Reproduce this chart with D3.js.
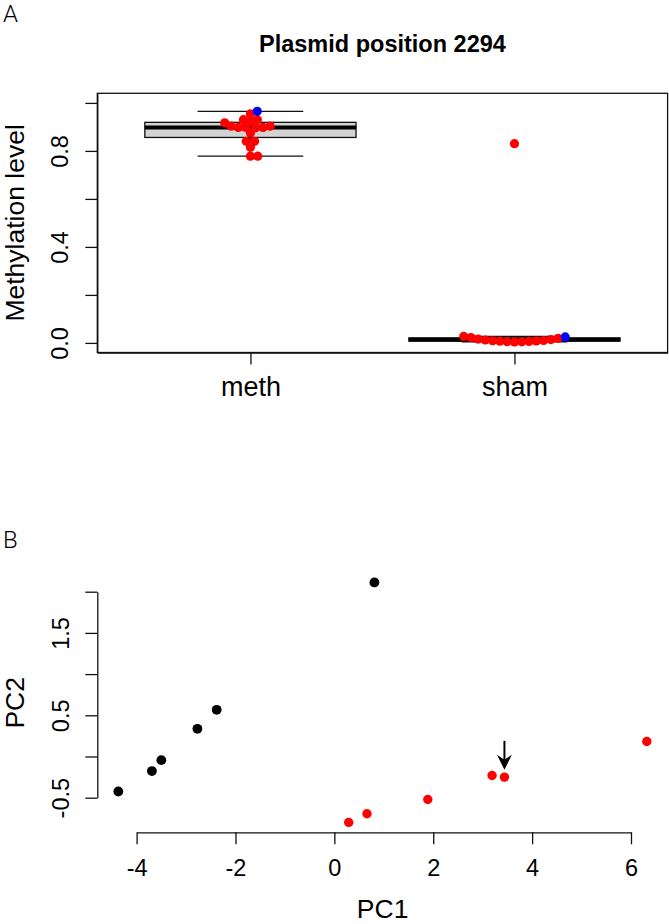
<!DOCTYPE html>
<html><head><meta charset="utf-8">
<script src="https://cdn.jsdelivr.net/npm/d3@7"></script>
<style>
body{margin:0;background:#fff}
svg{display:block}
text{font-family:"Liberation Sans",Arial,Helvetica,sans-serif;fill:#000}
</style>
</head><body>
<svg id="c" width="669" height="924"></svg>
<script>
// ---------- Panel A data ----------
const groups = ["meth", "sham"];
const methRed = [0.954, 0.921, 0.917, 0.93, 0.93, 0.903, 0.898, 0.896, 0.898, 0.898, 0.903, 0.875, 0.84, 0.84, 0.815, 0.778, 0.778];
const methBlue = [0.965];
const shamRed = [0.004, 0.0045, 0.005, 0.006, 0.007, 0.008, 0.009, 0.010, 0.012, 0.014, 0.016, 0.019, 0.022, 0.027, 0.83];
const shamBlue = [0.025];
// five-number summaries: lower whisker, Q1, median, Q3, upper whisker
const methBox = [0.778, 0.856, 0.898, 0.919, 0.965];
const shamBox = [0.004, 0.008, 0.013, 0.021, 0.027];
const yTicksA = [0, 0.2, 0.4, 0.6, 0.8, 1.0];
const yLabelsA = [0, 0.4, 0.8];
const titleA = "Plasmid position 2294";

// ---------- Panel B data ----------
const pc1Black = [-4.37, -3.69, -3.50, -2.77, -2.38, 0.81];
const pc2Black = [-0.425, -0.177, -0.044, 0.336, 0.567, 2.112];
const pc1Red = [0.29, 0.66, 1.89, 3.19, 3.44, 6.32];
const pc2Red = [-0.80, -0.695, -0.522, -0.231, -0.25, 0.182];
const xTicksB = [-4, -2, 0, 2, 4, 6];
const yTicksB = [-0.5, 0, 0.5, 1.0, 1.5, 2.0];
const yLabelsB = [-0.5, 0.5, 1.5];
const arrowPC1 = 3.44, arrowFromPC2 = 0.19, arrowToPC2 = -0.16;

const svg = d3.select("#c");
const INK = "#111";

// ================= Panel A =================
const A = {left: 97.3, right: 667.6, top: 93.3, bottom: 352.5};
const xA = d3.scaleLinear().domain([0.42, 2.58]).range([A.left, A.right]);
const yA = d3.scaleLinear().domain([-0.04, 1.04]).range([A.bottom, A.top]);

svg.append("text").attr("x", 3).attr("y", 21.5)
  .style("font-family", "Roboto, 'Liberation Sans', sans-serif").style("font-weight", 300)
  .attr("font-size", 24).text("A");
svg.append("text").attr("x", (A.left + A.right) / 2).attr("y", 51.7)
  .attr("text-anchor", "middle").attr("font-size", 23.5).attr("font-weight", "bold").text(titleA);

// boxes
const boxW = 0.4, stapleW = 0.2;
[methBox, shamBox].forEach((s, i) => {
  const cx = i + 1;
  const g = svg.append("g");
  g.append("line").attr("x1", xA(cx)).attr("x2", xA(cx)).attr("y1", yA(s[3])).attr("y2", yA(s[4]))
    .attr("stroke", INK).attr("stroke-width", 1.2).attr("stroke-dasharray", "4,4");
  g.append("line").attr("x1", xA(cx)).attr("x2", xA(cx)).attr("y1", yA(s[1])).attr("y2", yA(s[0]))
    .attr("stroke", INK).attr("stroke-width", 1.2).attr("stroke-dasharray", "4,4");
  [s[0], s[4]].forEach(v => g.append("line")
    .attr("x1", xA(cx - stapleW)).attr("x2", xA(cx + stapleW)).attr("y1", yA(v)).attr("y2", yA(v))
    .attr("stroke", INK).attr("stroke-width", 1.2));
  g.append("rect").attr("x", xA(cx - boxW)).attr("width", xA(cx + boxW) - xA(cx - boxW))
    .attr("y", yA(s[3])).attr("height", yA(s[1]) - yA(s[3]))
    .attr("fill", "#d3d3d3").attr("stroke", INK).attr("stroke-width", 1.3);
  g.append("line").attr("x1", xA(cx - boxW)).attr("x2", xA(cx + boxW)).attr("y1", yA(s[2])).attr("y2", yA(s[2]))
    .attr("stroke", "#000").attr("stroke-width", 4);
});

// beeswarm layout (swarm method, ascending priority)
function swarm(vals, yScale, d) {
  const order = vals.map((v, i) => i).sort((a, b) => vals[a] - vals[b]);
  const out = new Array(vals.length);
  const placed = [];
  order.forEach(i => {
    const y = yScale(vals[i]);
    const plus = [], minus = [];
    placed.forEach(p => {
      const dy = Math.abs(p.y - y);
      if (dy < d) { const o = Math.sqrt(d * d - dy * dy); plus.push(p.x + o); minus.push(p.x - o); }
    });
    const cands = [0, ...plus, ...minus];
    let best = null;
    cands.forEach(c => {
      const ok = placed.every(p => (p.x - c) ** 2 + (p.y - y) ** 2 >= d * d - 1e-6);
      if (ok && (best === null || Math.abs(c) < Math.abs(best) - 1e-9)) best = c;
    });
    out[i] = {x: best, y: y};
    placed.push(out[i]);
  });
  return out;
}

const SP = 7.3;
[[methRed, methBlue], [shamRed, shamBlue]].forEach((pair, gi) => {
  const vals = pair[0].concat(pair[1]);
  const cols = pair[0].map(() => "#ff0000").concat(pair[1].map(() => "#0000ff"));
  const pos = swarm(vals, yA, SP);
  svg.append("g").selectAll("circle").data(vals).join("circle")
    .attr("cx", (v, i) => xA(gi + 1) + pos[i].x)
    .attr("cy", (v, i) => pos[i].y)
    .attr("r", 4.6).attr("fill", (v, i) => cols[i]);
});

// frame
svg.append("rect").attr("x", A.left).attr("y", A.top).attr("width", A.right - A.left).attr("height", A.bottom - A.top)
  .attr("fill", "none").attr("stroke", INK).attr("stroke-width", 1.3);

function styleAxis(g) {
  g.attr("font-family", null).attr("font-size", null);
  g.selectAll("path.domain").attr("stroke", INK).attr("stroke-width", 1.3);
  g.selectAll(".tick line").attr("stroke", INK).attr("stroke-width", 1.3);
  g.selectAll(".tick text").attr("font-size", 23.5).style("fill", "#000");
}

// y axis A
const gyA = svg.append("g").attr("transform", `translate(${A.left},0)`)
  .call(d3.axisLeft(yA).tickValues(yTicksA).tickSize(12).tickSizeOuter(0)
    .tickFormat(v => yLabelsA.includes(v) ? v.toFixed(1) : ""));
styleAxis(gyA);
gyA.selectAll(".tick text").attr("transform", "rotate(-90)").attr("x", 0).attr("y", -29).attr("dy", null)
  .attr("text-anchor", "middle");

// x axis A
const gxA = svg.append("g").attr("transform", `translate(0,${A.bottom})`)
  .call(d3.axisBottom(xA).tickValues([1, 2]).tickSize(12).tickSizeOuter(0).tickFormat(i => groups[i - 1]));
styleAxis(gxA);
gxA.selectAll(".tick text").attr("font-size", 27).attr("y", 43.2).attr("dy", null);

svg.append("text").attr("transform", `translate(23.5,${(A.top + A.bottom) / 2}) rotate(-90)`)
  .attr("text-anchor", "middle").attr("font-size", 26.5).text("Methylation level");

// ================= Panel B =================
const xB = d3.scaleLinear().domain([-4, 6]).range([136.6, 631]);
const yB = d3.scaleLinear().domain([-0.5, 2.0]).range([797.7, 591.7]);
const B = {left: 97.3, right: 668, top: 573.3, bottom: 832.3};

svg.append("text").attr("x", 3).attr("y", 548)
  .style("font-family", "Roboto, 'Liberation Sans', sans-serif").style("font-weight", 300)
  .attr("font-size", 24).text("B");

svg.append("g").selectAll("circle").data(pc1Black).join("circle")
  .attr("cx", d => xB(d)).attr("cy", (d, i) => yB(pc2Black[i])).attr("r", 4.9).attr("fill", "#000");
svg.append("g").selectAll("circle").data(pc1Red).join("circle")
  .attr("cx", d => xB(d)).attr("cy", (d, i) => yB(pc2Red[i])).attr("r", 4.7).attr("fill", "#ff0000");

// arrow
const ax = xB(arrowPC1), ay0 = yB(arrowFromPC2), ay1 = yB(arrowToPC2);
svg.append("line").attr("x1", ax).attr("x2", ax).attr("y1", ay0).attr("y2", ay1 - 8)
  .attr("stroke", "#000").attr("stroke-width", 2);
svg.append("path")
  .attr("d", `M${ax},${ay1} L${ax - 7.5},${ay1 - 15} L${ax},${ay1 - 10} L${ax + 7.5},${ay1 - 15} Z`)
  .attr("fill", "#000");

const gyB = svg.append("g").attr("transform", `translate(${B.left},0)`)
  .call(d3.axisLeft(yB).tickValues(yTicksB).tickSize(12).tickSizeOuter(0)
    .tickFormat(v => yLabelsB.includes(v) ? v.toFixed(1) : ""));
styleAxis(gyB);
gyB.selectAll(".tick text").attr("transform", "rotate(-90)").attr("x", 0).attr("y", -28).attr("dy", null)
  .attr("text-anchor", "middle");

const gxB = svg.append("g").attr("transform", `translate(0,${B.bottom})`)
  .call(d3.axisBottom(xB).tickValues(xTicksB).tickSize(12).tickSizeOuter(0).tickFormat(v => String(v)));
styleAxis(gxB);
gxB.selectAll(".tick text").attr("y", 43.7).attr("dy", null);

svg.append("text").attr("transform", `translate(23.5,${(B.top + B.bottom) / 2}) rotate(-90)`)
  .attr("text-anchor", "middle").attr("font-size", 26.5).text("PC2");
svg.append("text").attr("x", (B.left + B.right) / 2).attr("y", 918)
  .attr("text-anchor", "middle").attr("font-size", 26.5).text("PC1");
</script>
</body></html>
